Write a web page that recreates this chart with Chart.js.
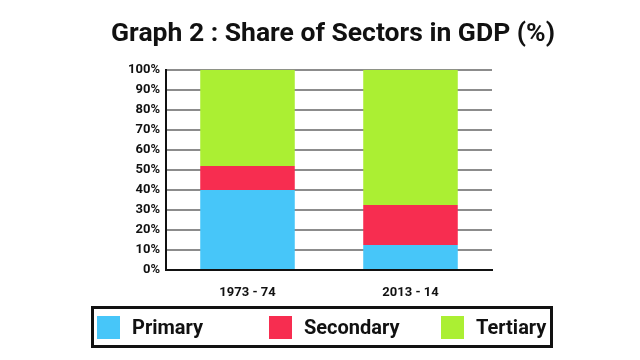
<!DOCTYPE html>
<html>
<head>
<meta charset="utf-8">
<script src="https://cdn.jsdelivr.net/npm/chart.js@4/dist/chart.umd.min.js"></script>
<style>
  html, body { margin: 0; padding: 0; background: #fff; }
  #wrap { position: relative; width: 640px; height: 360px; }
  #legend {
    position: absolute; left: 91px; top: 306px; width: 462px; height: 42px;
    box-sizing: border-box; border: 3px solid #111; display: flex; align-items: center;
    font-family: Roboto, "Noto Sans", sans-serif; font-weight: bold; font-size: 20px; color: #111;
  }
  .item { width: 172px; flex-shrink: 0; display: flex; align-items: center; white-space: nowrap; }
  .item:first-child { margin-left: 3px; width: 172px; }
  .item:last-child { width: auto; }
  .sw { width: 23px; height: 23px; margin-right: 12px; flex-shrink: 0; }
</style>
</head>
<body>
<div id="wrap">
  <canvas id="c" width="640" height="360"></canvas>
  <div id="legend"></div>
</div>
<script>
// ── data ─────────────────────────────────────────
const years     = ["1973 - 74", "2013 - 14"];
const primary   = [40, 12.5];
const secondary = [12, 20];
const tertiary  = [48, 67.5];
const yTicks    = [0, 10, 20, 30, 40, 50, 60, 70, 80, 90, 100];

const COLORS = { primary: "#47C6F9", secondary: "#F72D50", tertiary: "#ABEF33" };
const FONT = "Roboto, 'Noto Sans', sans-serif";

const datasets = [
    { label: "Primary",   data: primary,   backgroundColor: COLORS.primary },
    { label: "Secondary", data: secondary, backgroundColor: COLORS.secondary },
    { label: "Tertiary",  data: tertiary,  backgroundColor: COLORS.tertiary },
];

const chart = new Chart(document.getElementById("c"), {
    type: "bar",
    data: {
        labels: years,
        datasets: datasets.map(d => ({ ...d, barPercentage: 0.58, categoryPercentage: 1, borderWidth: 0 })),
    },
    options: {
        responsive: false,
        animation: false,
        layout: { padding: { left: 26, right: 0, top: 0, bottom: 60 } },
        plugins: {
            legend: { display: false },
            tooltip: { enabled: false },
            title: {
                display: true,
                text: "Graph 2 : Share of Sectors in GDP (%)",
                color: "#111",
                font: { family: FONT, size: 26.5, weight: "bold" },
                padding: { top: 18, bottom: 20 },
            },
        },
        scales: {
            x: {
                stacked: true,
                grid: { display: false },
                border: { display: true, color: "#111", width: 2 },
                ticks: { color: "#111", font: { family: FONT, size: 13, weight: "bold" }, padding: 7 },
                afterFit: s => { s.height = 30; },
            },
            y: {
                stacked: true,
                min: 0, max: 100,
                afterBuildTicks: s => { s.ticks = yTicks.map(v => ({ value: v })); },
                grid: { color: "#8c8c8c", lineWidth: 2, drawTicks: false },
                border: { display: true, color: "#111", width: 2 },
                ticks: { color: "#111", font: { family: FONT, size: 13, weight: "bold" }, padding: 6, callback: v => v + "%" },
                afterFit: s => { s.width = 140; },
            },
            // empty right axis: keeps the plot off the right side while the title stays centred
            yRight: {
                position: "right",
                min: 0, max: 100,
                grid: { display: false },
                border: { display: false },
                ticks: { display: false },
                afterFit: s => { s.width = 148; },
            },
        },
    },
});

// ── legend (boxed, fixed columns) ────────────────
const legend = document.getElementById("legend");
chart.data.datasets.forEach(d => {
    legend.insertAdjacentHTML("beforeend",
        `<div class="item"><span class="sw" style="background:${d.backgroundColor}"></span>${d.label}</div>`);
});
</script>
</body>
</html>
